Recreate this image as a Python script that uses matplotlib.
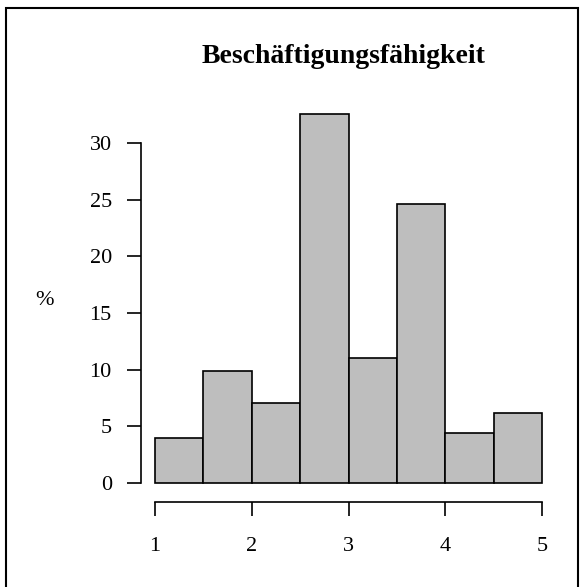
import matplotlib.pyplot as plt
from matplotlib.patches import Rectangle

plt.rcParams['font.family'] = ['Liberation Serif', 'DejaVu Serif']

# histogram of scores, bins of width 0.5 from 1 to 5, heights in percent
bin_edges = [1.0, 1.5, 2.0, 2.5, 3.0, 3.5, 4.0, 4.5, 5.0]
percent = [4.0, 9.9, 7.1, 32.6, 11.0, 24.6, 4.4, 6.2]
x_ticks = [1, 2, 3, 4, 5]
y_ticks = [0, 5, 10, 15, 20, 25, 30]
title = 'Beschäftigungsfähigkeit'

W, H = 582, 587
fig = plt.figure(figsize=(W / 100, H / 100), dpi=100)

# axes box in pixels (R-like plot region)
left, right, top, bottom = 141, 558.5, 99, 502
ax = fig.add_axes([left / W, 1 - bottom / H, (right - left) / W, (bottom - top) / H])

widths = [b - a for a, b in zip(bin_edges[:-1], bin_edges[1:])]
ax.bar(bin_edges[:-1], percent, width=widths, align='edge',
       color='#BEBEBE', edgecolor='black', linewidth=1.2)

ax.set_xlim(0.855, 5.17)
ax.set_ylim(-1.676, 33.88)

for s in ['top', 'right']:
    ax.spines[s].set_visible(False)
ax.spines['left'].set_bounds(0, 30)
ax.spines['bottom'].set_bounds(1, 5)
ax.spines['left'].set_linewidth(1.2)
ax.spines['bottom'].set_linewidth(1.2)

ax.set_xticks(x_ticks)
ax.set_xticklabels([str(v) for v in x_ticks])
ax.set_yticks(y_ticks)
ax.set_yticklabels([str(v) for v in y_ticks])
ax.tick_params(axis='both', length=10, width=1.2, labelsize=16)
ax.tick_params(axis='y', pad=11)
ax.tick_params(axis='x', pad=15)

ax.set_ylabel('%', rotation=0, fontsize=16, labelpad=0, va='center', ha='center')
ax.yaxis.set_label_coords(-0.23, 0.5)

fig.text(343 / W, 1 - 63 / H, title, ha='center', va='baseline',
         fontsize=20, fontweight='bold')

# page frame around the figure
frame = Rectangle((6 / W, -0.05), (578 - 6) / W, 1 - 8 / H + 0.05,
                  transform=fig.transFigure, fill=False,
                  edgecolor='black', linewidth=1.5)
fig.patches.append(frame)

fig.savefig('out.png', dpi=100)
